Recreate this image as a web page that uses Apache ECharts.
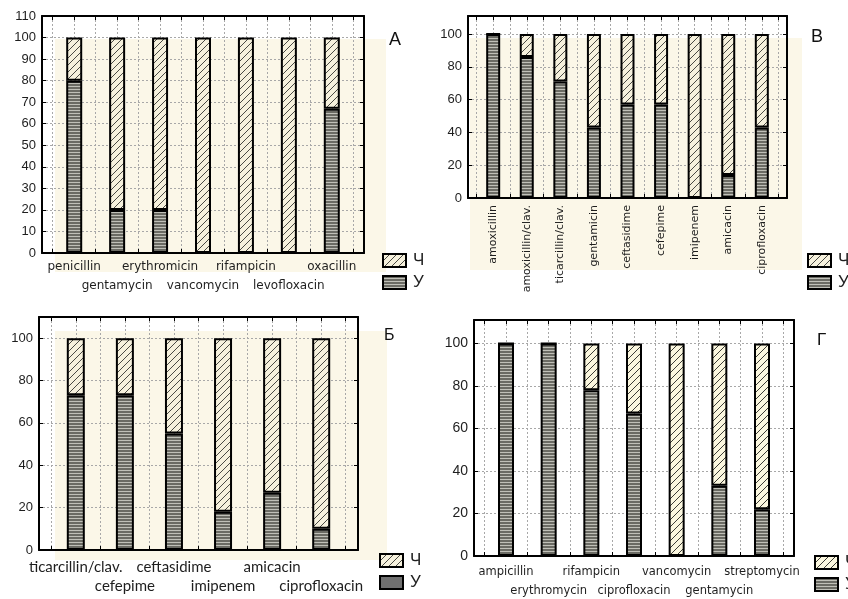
<!DOCTYPE html>
<html>
<head>
<meta charset="utf-8">
<script src="https://cdn.jsdelivr.net/npm/echarts@6/dist/echarts.min.js"></script>
<style>
  html, body { margin: 0; padding: 0; background: #ffffff; }
  #chart { width: 848px; height: 599px; }
</style>
</head>
<body>
<div id="chart"></div>
<script>
// Share of strains (%) per antibiotic; У = lower segment, Ч = upper segment
const seriesNames = ['Ч', 'У'];

// Panel А
const catsA = ['penicillin', 'gentamycin', 'erythromicin', 'vancomycin', 'rifampicin', 'levofloxacin', 'oxacillin'];
const uA  = [80, 20, 20, 0, 0, 0, 67];
const chA = [20, 80, 80, 100, 100, 100, 33];

// Panel В
const catsV = ['amoxicillin', 'amoxicillin/clav.', 'ticarcillin/clav.', 'gentamicin', 'ceftasidime', 'cefepime', 'imipenem', 'amicacin', 'ciprofloxacin'];
const uV  = [100, 86, 71, 43, 57, 57, 0, 14, 43];
const chV = [0, 14, 29, 57, 43, 43, 100, 86, 57];

// Panel Б
const catsB = ['ticarcillin/clav.', 'cefepime', 'ceftasidime', 'imipenem', 'amicacin', 'ciprofloxacin'];
const uB  = [73, 73, 55, 18, 27, 10];
const chB = [27, 27, 45, 82, 73, 90];

// Panel Г
const catsG = ['ampicillin', 'erythromycin', 'rifampicin', 'ciprofloxacin', 'vancomycin', 'gentamycin', 'streptomycin'];
const uG  = [100, 100, 78, 67, 0, 33, 22];
const chG = [0, 0, 22, 33, 100, 67, 78];

// Value-axis ranges
const yMaxA = 110, yStepA = 10;
const yMaxV = 111, yStepV = 20;
const yMaxB = 110, yStepB = 20;
const yMaxG = 111, yStepG = 20;

// ---- fill patterns ----
function hatchTile(bg, fg) {
  const s = 7;
  const c = document.createElement('canvas');
  c.width = s; c.height = s;
  const g = c.getContext('2d');
  g.fillStyle = bg; g.fillRect(0, 0, s, s);
  g.strokeStyle = fg; g.lineWidth = 1;
  g.beginPath();
  g.moveTo(-1, s + 1); g.lineTo(s + 1, -1);
  g.moveTo(-1, 1); g.lineTo(1, -1);
  g.moveTo(s - 1, s + 1); g.lineTo(s + 1, s - 1);
  g.stroke();
  return c;
}
function stripeTile(dark, light) {
  const c = document.createElement('canvas');
  c.width = 2; c.height = 3;
  const g = c.getContext('2d');
  g.fillStyle = dark; g.fillRect(0, 0, 2, 3);
  g.fillStyle = light; g.fillRect(0, 2, 2, 1);
  return c;
}
const hatchFill  = { image: hatchTile('#f6f1dd', '#4a4a44'), repeat: 'repeat' };
const hatchFillG = { image: hatchTile('#fbf7df', '#3c3c36'), repeat: 'repeat' };
const stripeFill = { image: stripeTile('#6b6b64', '#c0c0b8'), repeat: 'repeat' };

// ---- panel layout ----
const panels = [
  { cats: catsA, u: uA, ch: chA, yMax: yMaxA, yStep: yStepA,
    grid: { left: 42, top: 16, width: 322, height: 237 }, barWidth: 16,
    label: { rotate: 0, margin: 8, size: 12, row: 19 },
    yFont: 13, legend: { left: 377, top: 247 } },
  { cats: catsV, u: uV, ch: chV, yMax: yMaxV, yStep: yStepV,
    grid: { left: 468, top: 16, width: 319, height: 182 }, barWidth: 14,
    label: { rotate: 90, margin: 7, size: 11 },
    yFont: 13, legend: { left: 802, top: 247 } },
  { cats: catsB, u: uB, ch: chB, yMax: yMaxB, yStep: yStepB,
    grid: { left: 39, top: 317, width: 319, height: 233 }, barWidth: 18,
    label: { rotate: 0, margin: 10, size: 15, family: 'Lato', row: 19 },
    yFont: 13, legend: { left: 374, top: 547 }, solidLegend: true },
  { cats: catsG, u: uG, ch: chG, yMax: yMaxG, yStep: yStepG,
    grid: { left: 474, top: 320, width: 320, height: 236 }, barWidth: 16,
    label: { rotate: 0, margin: 10, size: 11.5, row: 19 },
    yFont: 14, legend: { left: 809, top: 549 }, hatch: hatchFillG }
];

const grids = [], xAxes = [], yAxes = [], series = [], legends = [];
const gridLine = { show: true, lineStyle: { color: '#a8a8a8', type: [2, 2], width: 1 } };
const frame = { show: true, onZero: false, lineStyle: { color: '#000', width: 2 } };

panels.forEach((p, k) => {
  const n = p.cats.length;
  const xMin = -0.75, xMax = n - 0.25;
  const halfSteps = [];
  for (let i = 0; i <= 2 * n; i++) halfSteps.push(i / 2 - 0.5);
  const idx = p.cats.map((_, i) => i);
  const staggered = !p.label.rotate;
  const firstRow = staggered ? idx.filter(i => i % 2 === 0) : idx;
  const secondRow = idx.filter(i => i % 2 === 1);
  grids.push(p.grid);

  const fam = p.label.family || '"DejaVu Sans"';
  const labelStyle = (values) => ({
    show: true, customValues: values, rotate: p.label.rotate, margin: p.label.margin,
    showMinLabel: true, showMaxLabel: true, hideOverlap: false,
    fontSize: p.label.size, fontFamily: fam, color: '#1e1e1e',
    formatter: v => p.cats[Math.round(v)] || ''
  });
  const base = 3 * k;
  // bottom axis: frame, ticks, vertical grid and first label row
  xAxes.push({
    type: 'value', gridIndex: k, position: 'bottom', min: xMin, max: xMax,
    axisLine: frame,
    axisTick: { show: true, inside: true, length: 4, customValues: halfSteps, lineStyle: { color: '#000', width: 1 } },
    splitLine: gridLine,
    axisLabel: labelStyle(firstRow)
  });
  // top edge of the frame
  xAxes.push({
    type: 'value', gridIndex: k, position: 'top', min: xMin, max: xMax,
    axisLine: frame,
    axisTick: { show: true, inside: true, length: 4, customValues: halfSteps, lineStyle: { color: '#000', width: 1 } },
    axisLabel: { show: false }, splitLine: { show: false }
  });
  // second (lower) label row
  xAxes.push({
    type: 'value', gridIndex: k, position: 'bottom', offset: staggered ? p.label.row : 0,
    min: xMin, max: xMax,
    axisLine: { show: false }, axisTick: { show: false }, splitLine: { show: false },
    axisLabel: staggered ? labelStyle(secondRow) : { show: false }
  });
  yAxes.push({
    type: 'value', gridIndex: k, position: 'left', min: 0, max: p.yMax, interval: p.yStep,
    axisLine: frame,
    axisTick: { show: true, inside: true, length: 4, lineStyle: { color: '#000' } },
    splitLine: gridLine,
    axisLabel: { margin: 6, fontSize: p.yFont, fontFamily: '"Liberation Sans", Arial', color: '#1e1e1e',
      showMaxLabel: p.yMax % p.yStep === 0 }
  });
  yAxes.push({
    type: 'value', gridIndex: k, position: 'right', min: 0, max: p.yMax, interval: p.yStep,
    axisLine: frame,
    axisTick: { show: true, inside: true, length: 4, lineStyle: { color: '#000' } },
    axisLabel: { show: false }, splitLine: { show: false }
  });

  // value in dimension 0 so the stack is applied along y
  const chFill = p.hatch || hatchFill;
  series.push({
    type: 'bar', name: 'У', xAxisIndex: base, yAxisIndex: 2 * k, stack: 'panel' + k,
    barWidth: p.barWidth, encode: { x: 1, y: 0 }, data: p.u.map((v, i) => [v, i]),
    itemStyle: { color: stripeFill, borderColor: '#000', borderWidth: 2 },
    emphasis: { disabled: true }
  });
  series.push({
    type: 'bar', name: 'Ч', xAxisIndex: base, yAxisIndex: 2 * k, stack: 'panel' + k,
    barWidth: p.barWidth, encode: { x: 1, y: 0 }, data: p.ch.map((v, i) => [v, i]),
    itemStyle: { color: chFill, borderColor: '#000', borderWidth: 2 },
    emphasis: { disabled: true }
  });

  legends.push({
    left: p.legend.left, top: p.legend.top, orient: 'vertical',
    icon: 'rect', itemWidth: 23, itemHeight: 13, itemGap: 5, selectedMode: false,
    textStyle: { fontSize: 17, lineHeight: 13, fontFamily: '"Liberation Sans", Arial', color: '#1e1e1e', padding: [0, 0, 0, 2] },
    data: [
      { name: seriesNames[0], itemStyle: { color: chFill, borderColor: '#000', borderWidth: 2 } },
      { name: seriesNames[1], itemStyle: { color: p.solidLegend ? '#707070' : stripeFill, borderColor: '#000', borderWidth: 2 } }
    ]
  });
});

// Cream plot backdrops and panel letters
const beige = '#fbf7e8';
const graphics = [
  { type: 'rect', z: -10, shape: { x: 55, y: 39, width: 331, height: 233 }, style: { fill: beige } },
  { type: 'rect', z: -10, shape: { x: 470, y: 38, width: 332, height: 232 }, style: { fill: beige } },
  { type: 'rect', z: -10, shape: { x: 55, y: 331, width: 332, height: 229 }, style: { fill: beige } },
  { type: 'text', left: 389, top: 31, style: { text: 'А', font: '18px "Liberation Sans", Arial', fill: '#111' } },
  { type: 'text', left: 811, top: 28, style: { text: 'В', font: '18px "Liberation Sans", Arial', fill: '#111' } },
  { type: 'text', left: 384, top: 328, style: { text: 'Б', font: '16px "Liberation Sans", Arial', fill: '#111' } },
  { type: 'text', left: 817, top: 332, style: { text: 'Г', font: '17px "Liberation Sans", Arial', fill: '#111' } }
];

const chart = echarts.init(document.getElementById('chart'), null, { renderer: 'canvas' });
chart.setOption({
  animation: false,
  backgroundColor: '#ffffff',
  grid: grids,
  xAxis: xAxes,
  yAxis: yAxes,
  legend: legends,
  series: series,
  graphic: graphics
});
</script>
</body>
</html>
